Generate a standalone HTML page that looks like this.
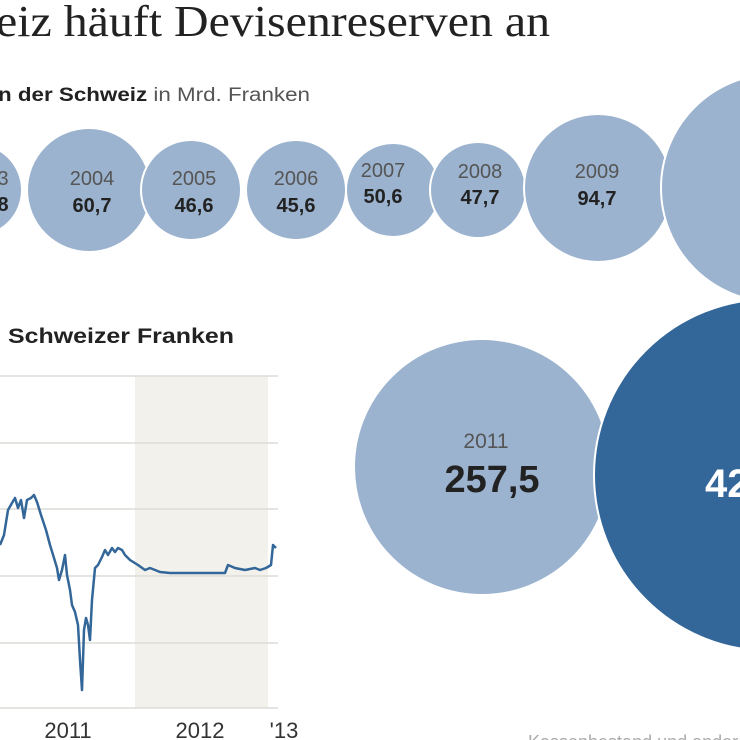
<!DOCTYPE html>
<html><head><meta charset="utf-8"><style>
html,body{margin:0;padding:0;background:#fff;width:740px;height:740px;overflow:hidden}
</style></head><body>
<svg width="740" height="740" viewBox="0 0 740 740" xmlns="http://www.w3.org/2000/svg">
<text x="-4" y="36" font-family="Liberation Serif, serif" font-size="44" fill="#222" textLength="554" lengthAdjust="spacingAndGlyphs">eiz häuft Devisenreserven an</text>
<text x="-2" y="101" font-family="Liberation Sans, sans-serif" font-size="19" fill="#222" textLength="312" lengthAdjust="spacingAndGlyphs"><tspan font-weight="bold">n der Schweiz</tspan><tspan fill="#555"> in Mrd. Franken</tspan></text>
<g fill="#9bb3cf" stroke="#fff" stroke-width="2">
<circle cx="-24" cy="190" r="46"/>
<circle cx="89" cy="190" r="62"/>
<circle cx="191" cy="190" r="50"/>
<circle cx="296" cy="190" r="50"/>
<circle cx="393" cy="190" r="47"/>
<circle cx="478" cy="190" r="48"/>
<circle cx="598" cy="188" r="74"/>
<circle cx="775" cy="188" r="114"/>
<circle cx="482" cy="467" r="128"/>
</g>
<circle cx="770" cy="475" r="176" fill="#336699" stroke="#fff" stroke-width="2"/>
<g font-family="Liberation Sans, sans-serif" text-anchor="middle">
<g font-size="20" fill="#555">
<text x="3" y="185">3</text><text x="92" y="185">2004</text><text x="194" y="185">2005</text><text x="296" y="185">2006</text><text x="383" y="177">2007</text><text x="480" y="178">2008</text><text x="597" y="178">2009</text><text x="486" y="448" font-size="21">2011</text>
</g>
<g font-size="20" font-weight="bold" fill="#222">
<text x="3" y="211">8</text><text x="92" y="212">60,7</text><text x="194" y="212">46,6</text><text x="296" y="212">45,6</text><text x="383" y="203">50,6</text><text x="480" y="204">47,7</text><text x="597" y="205">94,7</text>
</g>
<text x="492" y="492" font-size="38" font-weight="bold" fill="#222">257,5</text>
<text x="705" y="497" font-size="40" font-weight="bold" fill="#fff" text-anchor="start">42</text>
</g>
<text x="8" y="343" font-family="Liberation Sans, sans-serif" font-size="21" font-weight="bold" fill="#222" textLength="226" lengthAdjust="spacingAndGlyphs">Schweizer Franken</text>
<rect x="135" y="376" width="133" height="332" fill="#f2f1ec"/>
<g stroke="#dcdcd6" stroke-width="1.5">
<line x1="0" y1="376" x2="278" y2="376"/><line x1="0" y1="443" x2="278" y2="443"/><line x1="0" y1="509" x2="278" y2="509"/><line x1="0" y1="576" x2="278" y2="576"/><line x1="0" y1="643" x2="278" y2="643"/><line x1="0" y1="708" x2="278" y2="708"/>
</g>
<polyline fill="none" stroke="#336699" stroke-width="2.5" stroke-linejoin="round" points="0,545 4,535 8,510 12,503 15,498 18,508 21,500 24,518 27,500 31,498 34,495 37,502 41,515 46,530 50,545 54,558 57,568 59,580 62,570 65,555 67,575 70,590 72,605 75,612 78,625 80,660 82,690 84,630 86,618 88,625 90,640 92,600 95,568 98,565 102,557 105,550 108,555 112,548 115,552 118,548 122,550 125,555 130,560 138,565 145,570 150,568 160,572 170,573 200,573 225,573 228,565 235,568 245,570 255,568 260,570 266,568 271,565 273,545 276,548"/>
<g font-family="Liberation Sans, sans-serif" font-size="22" fill="#333" text-anchor="middle">
<text x="68" y="738">2011</text><text x="200" y="738">2012</text><text x="284" y="738">'13</text>
</g>
<text x="528" y="748" font-family="Liberation Sans, sans-serif" font-size="18" fill="#aaa">Kassenbestand und andere</text>
</svg>
</body></html>
